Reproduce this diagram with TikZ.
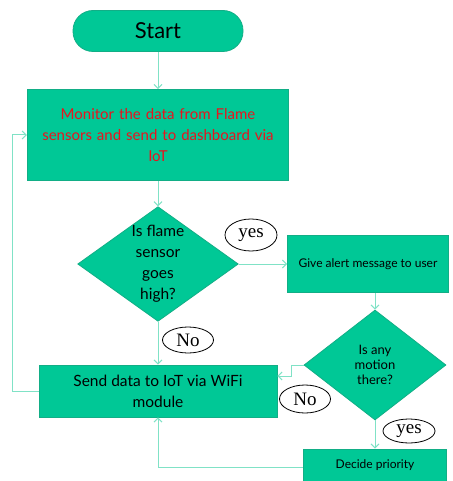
\documentclass[tikz,border=0pt]{standalone}
\usepackage{fontspec}
\setmainfont{Lato}
\newfontfamily\labelfont{Liberation Serif}
\usepackage{tikz}
\usetikzlibrary{arrows.meta,positioning,shapes.geometric}
\definecolor{boxgreen}{HTML}{00C896}
\definecolor{boxedge}{HTML}{12AE86}
\definecolor{linkteal}{HTML}{80E2C6}
\definecolor{alertred}{HTML}{E8141E}
\tikzset{
  procbox/.style={rectangle,draw=boxedge,fill=boxgreen,line width=0.8pt,align=center},
  decbox/.style={diamond,draw=boxedge,fill=boxgreen,line width=0.8pt,align=center,inner sep=0pt,aspect=1.4},
  answer/.style={ellipse,draw=black,line width=0.8pt,inner sep=0pt,font=\labelfont\fontsize{19}{19}\selectfont},
  flow/.style={draw=linkteal,line width=1pt,-{Straight Barb[length=4pt,width=8pt]}}
}
\begin{document}
\begin{tikzpicture}[x=1pt,y=-1pt]
    \useasboundingbox (0,0) rectangle (452,481);
    % Start
    \node[procbox,rounded corners=20pt,minimum width=170pt,minimum height=41pt,font=\fontsize{22}{24}\selectfont] (start) at (158,31) {Start};
    % Monitoring step
    \node[procbox,minimum width=260pt,minimum height=91pt,text width=255pt,text=alertred,font=\fontsize{15}{21}\selectfont] (monitor) at (158,135) {Monitor the data from Flame\\sensors and send to dashboard via\\IoT};
    % Flame check
    \node[decbox,minimum width=158pt,minimum height=112pt,font=\fontsize{15.5}{21}\selectfont] (flame) at (158,264) {Is flame\\sensor\\goes\\high?};
    \node[procbox,minimum width=161pt,minimum height=57pt,font=\fontsize{12}{14}\selectfont] (alert) at (368,264) {Give alert message to user};
    % Motion check
    \node[decbox,minimum width=142pt,minimum height=110pt,font=\fontsize{13}{15}\selectfont] (motion) at (375,365) {Is any\\motion\\there?};
    \node[procbox,minimum width=238pt,minimum height=52pt,font=\fontsize{15.5}{21}\selectfont] (send) at (158,391) {Send data to IoT via WiFi\\module};
    \node[procbox,minimum width=143pt,minimum height=32pt,font=\fontsize{12}{14}\selectfont] (decide) at (375,465) {Decide priority};

    % Answers
    \node[answer,minimum width=52pt,minimum height=32pt] (yesA) at (251,235) {yes};
    \node[answer,minimum width=51pt,minimum height=26pt] (noA) at (188,340) {No};
    \node[answer,minimum width=51pt,minimum height=28pt] (noB) at (305,399) {No};
    \node[answer,minimum width=52pt,minimum height=24pt] (yesB) at (409,431) {yes};

    \draw[flow] (start) -- (monitor);
    \draw[flow] (monitor) -- (flame);
    \draw[flow] (flame) -- (alert);
    \draw[flow] (flame) -- (send);
    \draw[flow] (alert.south -| motion.north) -- (motion);
    \draw[flow] (motion.west) -- (291,365) -- (291,376) -- (send.east |- 0,376);
    \draw[flow] (motion) -- (decide);
    \draw[flow] (decide.west |- 0,467) -- (158,467) -- (send.south);
    \draw[flow] (send.west) -- (12,391) -- (12,135) -- (monitor.west);
\end{tikzpicture}
\end{document}
